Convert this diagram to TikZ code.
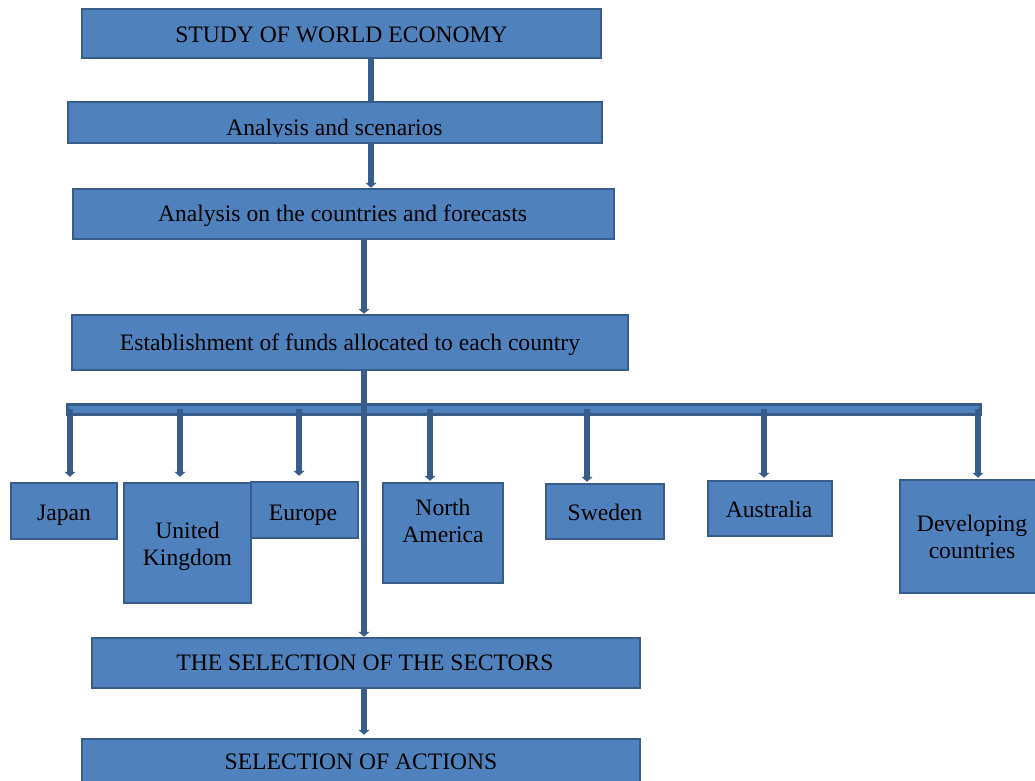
\documentclass[tikz,border=0pt]{standalone}
\usepackage{fontspec}
\setmainfont{Liberation Serif}
\usetikzlibrary{arrows.meta}
\definecolor{boxfill}{HTML}{4F81BD}
\definecolor{boxline}{HTML}{385D8A}
\begin{document}
\begin{tikzpicture}[x=1pt,y=-1pt,
  box/.style={draw=boxline, line width=2.5pt, fill=boxfill, inner sep=0pt},
  lbl/.style={inner sep=0pt, anchor=base, font=\fontsize{23.6}{28}\selectfont, text=black},
  conn/.style={draw=boxline, line width=6pt},
  arr/.style={conn, -{Triangle[width=11pt,length=5pt]}},
  barbox/.style={draw=boxline, line width=3pt, fill=boxfill, inner sep=0pt}
]
\useasboundingbox (0,0) rectangle (1035,780);
\coordinate (sp1) at (371,0);
\coordinate (sp2) at (364,0);
% main boxes
\node[box, minimum width=519, minimum height=49] (b1) at (341.5,33.5) {};
\node[lbl] (b1t) at (341.5,42) {STUDY OF WORLD ECONOMY};
\node[box, minimum width=534, minimum height=41] (b2) at (335,122.5) {};
\begin{scope}
  \clip (68,102) rectangle (602,136.5);
  \node[lbl] (b2t) at (334.5,135) {Analysis and scenarios};
\end{scope}
\node[box, minimum width=541, minimum height=50] (b3) at (343.5,214) {};
\node[lbl] (b3t) at (342.5,221.5) {Analysis on the countries and forecasts};
\node[box, minimum width=556, minimum height=55] (b4) at (350,342.5) {};
\node[lbl] (b4t) at (350,350) {Establishment of funds allocated to each country};
% bar
\node[barbox, minimum width=913, minimum height=10] (bar) at (524,409.5) {};
% country boxes
\node[box, minimum width=106, minimum height=56] (jp) at (64,511) {};
\node[lbl] (jpt) at (64,520) {Japan};
\node[box, minimum width=127, minimum height=120] (uk) at (187.5,543) {};
\node[lbl] (ukt1) at (187.5,538) {United};
\node[lbl] (ukt2) at (187.5,565) {Kingdom};
\node[box, minimum width=107, minimum height=56] (eu) at (304.5,510) {};
\node[lbl] (eut) at (303,520) {Europe};
\node[box, minimum width=120, minimum height=100] (na) at (443,533) {};
\node[lbl] (nat1) at (443,515) {North};
\node[lbl] (nat2) at (443,542.7) {America};
\node[box, minimum width=118, minimum height=55] (sw) at (605,511.5) {};
\node[lbl] (swt) at (605,520) {Sweden};
\node[box, minimum width=124, minimum height=55] (au) at (770,508.5) {};
\node[lbl] (aut) at (769,517.6) {Australia};
\node[box, minimum width=145, minimum height=113] (dv) at (972.5,536.5) {};
\node[lbl] (dvt1) at (972,531.7) {Developing};
\node[lbl] (dvt2) at (972,558) {countries};
% bottom boxes
\node[box, minimum width=548, minimum height=50] (s1) at (366,663) {};
\node[lbl] (s1t) at (365,670) {THE SELECTION OF THE SECTORS};
\node[box, minimum width=558, minimum height=62] (s2) at (361,770) {};
\node[lbl] (s2t) at (361,769) {SELECTION OF ACTIONS};
% drops
\foreach \n/\x/\s in {jp/70/5, uk/180/5, eu/299/5, na/430/1, sw/587/1, au/764/2, dv/978/1}{
  \coordinate (d-\n) at (\x,409);
  \draw[arr, shorten >=\s pt] (d-\n) -- (d-\n |- \n.north);
}
% spine
\draw[conn] (b1.south -| sp1) -- (b2.north -| sp1);
\draw[arr] (b2.south -| sp1) -- (b3.north -| sp1);
\draw[arr] (b3.south -| sp2) -- (b4.north -| sp2);
\draw[arr] (b4.south -| sp2) -- (s1.north -| sp2);
\draw[arr, shorten >=3pt] (s1.south -| sp2) -- (s2.north -| sp2);
\end{tikzpicture}
\end{document}
